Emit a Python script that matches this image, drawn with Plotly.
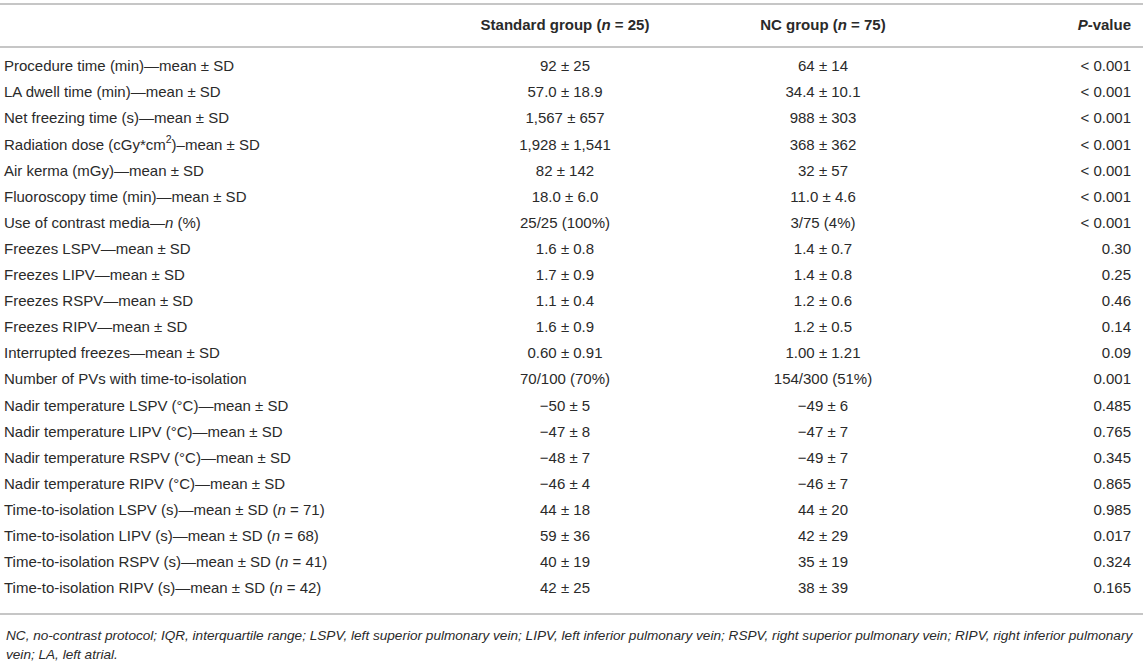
import plotly.graph_objects as go

# ---------------- data ----------------
headers = ["", "<b>Standard group (<i>n</i> = 25)</b>", "<b>NC group (<i>n</i> = 75)</b>", "<b><i>P</i>-value</b>"]

labels = [
    "Procedure time (min)—mean ± SD",
    "LA dwell time (min)—mean ± SD",
    "Net freezing time (s)—mean ± SD",
    "Radiation dose (cGy*cm<sup>2</sup>)–mean ± SD",
    "Air kerma (mGy)—mean ± SD",
    "Fluoroscopy time (min)—mean ± SD",
    "Use of contrast media—<i>n</i> (%)",
    "Freezes LSPV—mean ± SD",
    "Freezes LIPV—mean ± SD",
    "Freezes RSPV—mean ± SD",
    "Freezes RIPV—mean ± SD",
    "Interrupted freezes—mean ± SD",
    "Number of PVs with time-to-isolation",
    "Nadir temperature LSPV (°C)—mean ± SD",
    "Nadir temperature LIPV (°C)—mean ± SD",
    "Nadir temperature RSPV (°C)—mean ± SD",
    "Nadir temperature RIPV (°C)—mean ± SD",
    "Time-to-isolation LSPV (s)—mean ± SD (<i>n</i> = 71)",
    "Time-to-isolation LIPV (s)—mean ± SD (<i>n</i> = 68)",
    "Time-to-isolation RSPV (s)—mean ± SD (<i>n</i> = 41)",
    "Time-to-isolation RIPV (s)—mean ± SD (<i>n</i> = 42)",
]

standard_group = [
    "92 ± 25", "57.0 ± 18.9", "1,567 ± 657", "1,928 ± 1,541", "82 ± 142",
    "18.0 ± 6.0", "25/25 (100%)", "1.6 ± 0.8", "1.7 ± 0.9", "1.1 ± 0.4",
    "1.6 ± 0.9", "0.60 ± 0.91", "70/100 (70%)", "−50 ± 5", "−47 ± 8",
    "−48 ± 7", "−46 ± 4", "44 ± 18", "59 ± 36", "40 ± 19", "42 ± 25",
]

nc_group = [
    "64 ± 14", "34.4 ± 10.1", "988 ± 303", "368 ± 362", "32 ± 57",
    "11.0 ± 4.6", "3/75 (4%)", "1.4 ± 0.7", "1.4 ± 0.8", "1.2 ± 0.6",
    "1.2 ± 0.5", "1.00 ± 1.21", "154/300 (51%)", "−49 ± 6", "−47 ± 7",
    "−49 ± 7", "−46 ± 7", "44 ± 20", "42 ± 29", "35 ± 19", "38 ± 39",
]

p_values = [
    "< 0.001", "< 0.001", "< 0.001", "< 0.001", "< 0.001", "< 0.001", "< 0.001",
    "0.30", "0.25", "0.46", "0.14", "0.09", "0.001", "0.485", "0.765",
    "0.345", "0.865", "0.985", "0.017", "0.324", "0.165",
]

footnote_lines = [
    "NC, no-contrast protocol; IQR, interquartile range; LSPV, left superior pulmonary vein; LIPV, left inferior pulmonary vein; RSPV, right superior pulmonary vein; RIPV, right inferior pulmonary",
    "vein; LA, left atrial.",
]

# ---------------- layout constants (pixels) ----------------
W, H = 1143, 663
ROW0_PX = 67.5
ROW_STEP = 26.1
HEADER_PX = 26.0
LINE_TOP_PX = 4.0
LINE_HEAD_PX = 47.0
LINE_BOTTOM_PX = 614.0
FOOT_PX = [635.0, 654.0]

def to_row(px):
    return (px - ROW0_PX) / ROW_STEP

X_LABEL = 4
X_STD = 565
X_NC = 823
X_P = 1131

TEXT_COLOR = "#2a2a2a"
LINE_COLOR = "#c6c6c6"
FONT = "Liberation Sans, Arial, Helvetica, sans-serif"
FS = 15

rows = list(range(len(labels)))

fig = go.Figure()

def text_trace(xs, ys, texts, anchor, size=FS, color=TEXT_COLOR, family=FONT):
    fig.add_trace(go.Scatter(
        x=xs, y=ys, text=texts, mode="text", textposition=anchor,
        textfont=dict(family=family, size=size, color=color),
        hoverinfo="skip", showlegend=False,
    ))

# body columns
text_trace([X_LABEL] * len(rows), rows, labels, "middle right")
text_trace([X_STD] * len(rows), rows, standard_group, "middle center")
text_trace([X_NC] * len(rows), rows, nc_group, "middle center")
text_trace([X_P] * len(rows), rows, p_values, "middle left")

# header
hy = to_row(HEADER_PX)
text_trace([X_STD], [hy], [headers[1]], "middle center")
text_trace([X_NC], [hy], [headers[2]], "middle center")
text_trace([X_P], [hy], [headers[3]], "middle left")

# footnote
for line, px in zip(footnote_lines, FOOT_PX):
    fig.add_annotation(
        x=X_LABEL, y=to_row(px), xref="x", yref="y", text="<i>" + line + "</i>",
        showarrow=False, xanchor="left", yanchor="middle",
        font=dict(family=FONT, size=13.6, color=TEXT_COLOR),
    )

# horizontal rules
for px in [LINE_TOP_PX, LINE_HEAD_PX, LINE_BOTTOM_PX]:
    fig.add_shape(type="line", xref="paper", x0=0, x1=1, yref="y",
                  y0=to_row(px), y1=to_row(px),
                  line=dict(color=LINE_COLOR, width=2))

fig.update_layout(
    width=W, height=H,
    margin=dict(l=0, r=0, t=0, b=0),
    paper_bgcolor="white", plot_bgcolor="white",
    xaxis=dict(range=[0, W], visible=False, fixedrange=True),
    yaxis=dict(range=[to_row(H), to_row(0)], visible=False, fixedrange=True),
)

fig.write_html(
    "out.html",
    config={"displayModeBar": False},
    post_script="document.body.style.margin='0';document.body.style.overflow='hidden';",
)
